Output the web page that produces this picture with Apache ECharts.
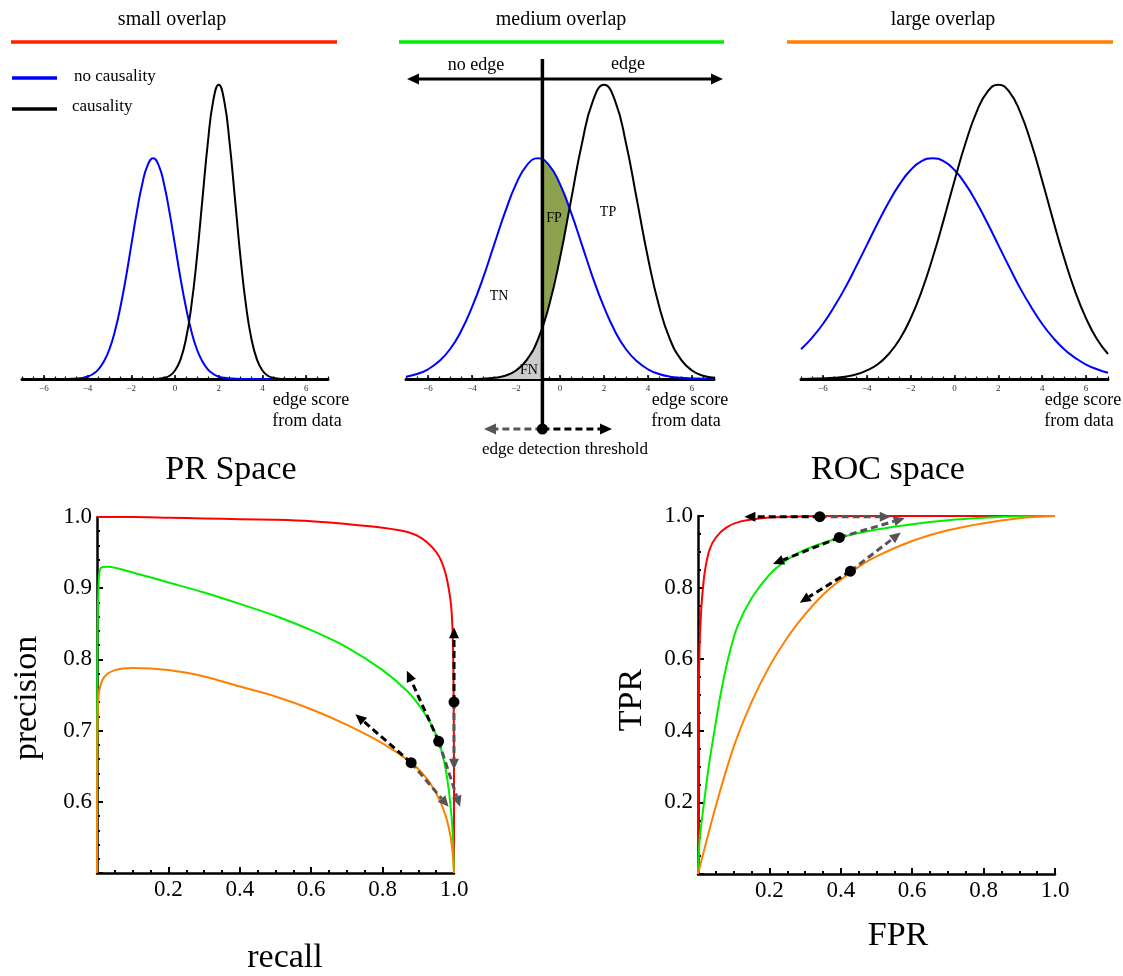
<!DOCTYPE html>
<html>
<head>
<meta charset="utf-8">
<script src="https://cdn.jsdelivr.net/npm/echarts@6/dist/echarts.min.js"></script>
<style>
  html, body { margin: 0; padding: 0; background: #fff; }
  #main { width: 1123px; height: 976px; }
</style>
</head>
<body>
<div id="main"></div>
<script>
// ---- score distributions (top row) ----
const scoreX = [-7, -6.5, -6, -5.5, -5, -4.5, -4, -3.5, -3, -2.5, -2, -1.5, -1, -0.5, 0,
  0.5, 1, 1.5, 2, 2.5, 3, 3.5, 4, 4.5, 5, 5.5, 6, 6.5, 7];
const scoreTicks = [-6, -4, -2, 0, 2, 4, 6];
// the narrow "small overlap" curves are read more finely
const smallX = [-7, -5, -4.75, -4.5, -4.25, -4, -3.75, -3.5, -3.25, -3, -2.75, -2.5, -2.25, -2, -1.75, -1.5,
  -1.25, -1, -0.75, -0.5, -0.25, 0, 0.25, 0.5, 0.75, 1, 1.25, 1.5, 1.75, 2, 2.25, 2.5, 2.75, 3, 3.25, 3.5,
  3.75, 4, 4.25, 4.5, 4.75, 5, 7];

const smallNoCause = [0, 0, 0.0007, 0.0016, 0.0038, 0.0083, 0.017, 0.033, 0.060, 0.101, 0.162, 0.244, 0.343, 0.455,
  0.566, 0.662, 0.727, 0.75, 0.727, 0.662, 0.566, 0.455, 0.343, 0.244, 0.162, 0.101, 0.060, 0.033, 0.017, 0.008,
  0.004, 0.002, 0.001, 0, 0, 0, 0, 0, 0, 0, 0, 0, 0];
const smallCause = [0, 0, 0, 0, 0, 0, 0, 0, 0, 0, 0, 0, 0, 0, 0, 0, 0, 0, 0.001, 0.004, 0.011, 0.029, 0.066, 0.135,
  0.249, 0.411, 0.607, 0.801, 0.946, 1, 0.946, 0.801, 0.607, 0.411, 0.249, 0.135, 0.066, 0.029, 0.011, 0.004,
  0.001, 0, 0];
const mediumNoCause = [0.008, 0.017, 0.033, 0.060, 0.101, 0.162, 0.244, 0.343, 0.455, 0.566, 0.662, 0.727, 0.75, 0.727, 0.662,
  0.566, 0.455, 0.343, 0.244, 0.162, 0.101, 0.060, 0.033, 0.017, 0.008, 0.004, 0.002, 0.001, 0];
const mediumCause = [0, 0, 0, 0, 0, 0, 0, 0.001, 0.004, 0.011, 0.029, 0.066, 0.135, 0.249, 0.411,
  0.607, 0.801, 0.946, 1, 0.946, 0.801, 0.607, 0.411, 0.249, 0.135, 0.066, 0.029, 0.011, 0.004];
const largeNoCause = [0.101, 0.140, 0.187, 0.244, 0.308, 0.380, 0.455, 0.530, 0.601, 0.662, 0.710, 0.740, 0.75, 0.740, 0.710,
  0.662, 0.601, 0.530, 0.455, 0.380, 0.308, 0.244, 0.187, 0.140, 0.101, 0.072, 0.049, 0.033, 0.021];
const largeCause = [0, 0.001, 0.002, 0.004, 0.008, 0.015, 0.029, 0.050, 0.085, 0.135, 0.206, 0.298, 0.411, 0.539, 0.674,
  0.801, 0.906, 0.976, 1, 0.976, 0.906, 0.801, 0.674, 0.539, 0.411, 0.298, 0.206, 0.135, 0.085];

// medium panel: threshold and shaded FN / FP regions
const threshold = -0.8;
const fnX = [-4, -3.6, -3.2, -2.8, -2.4, -2, -1.6, -1.2, -0.8];
const fnY = [0, 0.001, 0.0025, 0.006, 0.0135, 0.029, 0.056, 0.103, 0.175];
const fpX = [-0.8, -0.6, -0.4, -0.2, 0, 0.2, 0.43];
const fpTop = [0.746, 0.735, 0.717, 0.692, 0.662, 0.627, 0.58];
const fpBottom = [0.175, 0.223, 0.278, 0.341, 0.411, 0.487, 0.58];

// ---- PR space: [recall, precision] ----
const prRed = [[0, 1.0], [0.1, 1.0], [0.2, 0.999], [0.3, 0.998], [0.4, 0.997], [0.5, 0.996], [0.6, 0.994],
  [0.7, 0.99], [0.8, 0.985], [0.87, 0.979], [0.91, 0.97], [0.94, 0.957], [0.96, 0.943], [0.975, 0.923],
  [0.985, 0.9], [0.992, 0.875], [0.996, 0.84], [0.998, 0.8], [0.999, 0.74], [1.0, 0.65], [1.0, 0.5]];
const prGreen = [[0, 0.5], [0.001, 0.8], [0.004, 0.9], [0.01, 0.928], [0.03, 0.93], [0.1, 0.922], [0.2, 0.908],
  [0.3, 0.894], [0.4, 0.878], [0.5, 0.861], [0.6, 0.841], [0.7, 0.817], [0.8, 0.785], [0.87, 0.755],
  [0.91, 0.73], [0.94, 0.705], [0.96, 0.68], [0.975, 0.65], [0.985, 0.618], [0.993, 0.58], [0.998, 0.54],
  [1.0, 0.5]];
const prOrange = [[0, 0.5], [0.0005, 0.65], [0.002, 0.72], [0.006, 0.755], [0.02, 0.775], [0.05, 0.785],
  [0.1, 0.788], [0.2, 0.785], [0.3, 0.776], [0.4, 0.762], [0.5, 0.748], [0.6, 0.73], [0.7, 0.708],
  [0.8, 0.682], [0.88, 0.655], [0.92, 0.635], [0.95, 0.612], [0.97, 0.59], [0.985, 0.565], [0.995, 0.535],
  [1.0, 0.5]];
const prDots = [[1.0, 0.74], [0.957, 0.685], [0.88, 0.655]];
const prLowerArrows = [[1.0, 0.74, 1.0, 0.845], [0.957, 0.685, 0.868, 0.784], [0.88, 0.655, 0.724, 0.723]];
const prRaiseArrows = [[1.0, 0.74, 1.0, 0.645], [0.957, 0.685, 1.017, 0.593], [0.88, 0.655, 0.985, 0.593]];

// ---- ROC space: [FPR, TPR] ----
const rocRed = [[0, 0], [0.0005, 0.3], [0.0015, 0.45], [0.004, 0.62], [0.008, 0.72], [0.013, 0.79],
  [0.02, 0.85], [0.032, 0.905], [0.05, 0.94], [0.08, 0.968], [0.12, 0.985], [0.2, 0.996], [0.3, 0.999],
  [0.45, 1], [1, 1]];
const rocGreen = [[0, 0], [0.005, 0.1], [0.017, 0.2], [0.03, 0.3], [0.046, 0.4], [0.063, 0.5], [0.084, 0.6],
  [0.11, 0.69], [0.15, 0.77], [0.2, 0.836], [0.25, 0.878], [0.3, 0.906], [0.4, 0.94], [0.5, 0.962],
  [0.6, 0.977], [0.7, 0.988], [0.8, 0.995], [0.9, 0.999], [1, 1]];
const rocOrange = [[0, 0], [0.05, 0.19], [0.1, 0.355], [0.15, 0.48], [0.2, 0.58], [0.25, 0.66], [0.3, 0.725],
  [0.35, 0.78], [0.4, 0.822], [0.45, 0.858], [0.5, 0.887], [0.6, 0.93], [0.7, 0.96], [0.8, 0.98],
  [0.9, 0.994], [1, 1]];
const rocDots = [[0.341, 0.998], [0.396, 0.94], [0.427, 0.846]];
const rocLowerArrows = [[0.341, 0.998, 0.13, 0.998], [0.396, 0.94, 0.21, 0.866], [0.427, 0.846, 0.285, 0.758]];
const rocRaiseArrows = [[0.341, 0.998, 0.54, 0.998], [0.396, 0.94, 0.579, 0.994], [0.427, 0.846, 0.568, 0.954]];

const SERIF = '"Liberation Serif", "DejaVu Serif", serif';
const RED = '#ff0000', GREEN = '#00ee00', ORANGE = '#ff8000', BLUE = '#0000ff';
const GRAY = '#555555';

const chart = echarts.init(document.getElementById('main'));

const zip = (xs, ys) => xs.map((x, k) => [x, ys[k]]);

// dashed line with a filled arrow head, drawn in data coordinates
function arrowRender(color) {
  return function (params, api) {
    const p0 = api.coord([api.value(0), api.value(1)]);
    const p1 = api.coord([api.value(2), api.value(3)]);
    const dx = p1[0] - p0[0], dy = p1[1] - p0[1];
    const len = Math.hypot(dx, dy) || 1;
    const ux = dx / len, uy = dy / len;
    const head = 11, half = 5;
    const bx = p1[0] - ux * head, by = p1[1] - uy * head;
    return {
      type: 'group',
      children: [
        { type: 'line', shape: { x1: p0[0], y1: p0[1], x2: bx, y2: by },
          style: { stroke: color, lineWidth: 3, lineDash: [7, 4] } },
        { type: 'polygon', shape: { points: [[p1[0], p1[1]], [bx - uy * half, by + ux * half], [bx + uy * half, by - ux * half]] },
          style: { fill: color } }
      ]
    };
  };
}

function scoreAxes(gridIndex) {
  return [
    {
      gridIndex, type: 'value', min: -7, max: 7, position: 'bottom',
      axisLine: { onZero: false, lineStyle: { color: '#000', width: 3 } },
      axisTick: { customValues: scoreTicks, inside: true, length: 4, lineStyle: { color: '#000', width: 1.5 } },
      axisLabel: { customValues: scoreTicks, color: '#333', fontSize: 9, fontFamily: SERIF, margin: 5,
        formatter: v => (v < 0 ? '\u2212' + (-v) : String(v)) },
      splitLine: { show: false }
    },
    {
      gridIndex, type: 'value', min: -7, max: 7, position: 'bottom',
      axisLine: { show: false, onZero: false },
      axisTick: { customValues: scoreX, inside: true, length: 2.5, lineStyle: { color: '#000', width: 1.2 } },
      axisLabel: { show: false },
      splitLine: { show: false }
    }
  ];
}

function plotAxis(gridIndex, min, max, interval, minorSplit) {
  return {
    gridIndex, type: 'value', min, max, interval,
    axisLine: { onZero: false, lineStyle: { color: '#000', width: 2.5 } },
    axisTick: { inside: true, length: 6, lineStyle: { color: '#000', width: 2 } },
    minorTick: { show: true, splitNumber: minorSplit, length: 3, lineStyle: { color: '#000', width: 2 } },
    axisLabel: { color: '#000', fontSize: 23, fontFamily: SERIF, margin: 5, showMinLabel: false,
      formatter: v => v.toFixed(1) },
    splitLine: { show: false },
    minorSplitLine: { show: false }
  };
}

function scoreLine(xs, data, color, gi) {
  return {
    type: 'line', xAxisIndex: gi * 2, yAxisIndex: gi, data: zip(xs, data),
    smooth: true, symbol: 'none', clip: false, z: 3,
    lineStyle: { color, width: 2 }
  };
}
function curve(data, color, xi, yi) {
  return {
    type: 'line', xAxisIndex: xi, yAxisIndex: yi, data,
    smooth: 0.3, symbol: 'none', clip: false, z: 3,
    lineStyle: { color, width: 2 }
  };
}
function arrows(data, color, xi, yi) {
  return {
    type: 'custom', xAxisIndex: xi, yAxisIndex: yi, data, clip: false, z: 4,
    encode: { x: [0, 2], y: [1, 3] },
    renderItem: arrowRender(color)
  };
}
function dots(data, xi, yi) {
  return {
    type: 'scatter', xAxisIndex: xi, yAxisIndex: yi, data, clip: false, z: 5,
    symbol: 'circle', symbolSize: 11, itemStyle: { color: '#000', opacity: 1 }
  };
}

const topY = [0, 1, 2].map(i => ({ gridIndex: i, type: 'value', min: 0, max: 1.05, show: false }));

function txt(text, x, y, size, extra, align) {
  return Object.assign({
    type: 'text', x, y, z: 20,
    style: { text, font: size + 'px ' + SERIF, fill: '#000', textAlign: align || 'center',
      textVerticalAlign: 'middle', verticalAlign: 'middle' }
  }, extra || {});
}
function seg(x1, y1, x2, y2, color, w) {
  return { type: 'line', z: 20, shape: { x1, y1, x2, y2 }, style: { stroke: color, lineWidth: w } };
}

const staticGraphics = [
  txt('small overlap', 172, 20, 20), seg(11, 42, 337, 42, '#ff2200', 3.5),
  txt('medium overlap', 561, 20, 20), seg(399, 42, 724, 42, GREEN, 3.5),
  txt('large overlap', 943, 20, 20), seg(787, 42, 1113, 42, ORANGE, 3.5),
  seg(12, 78, 57, 78, BLUE, 3.5), seg(12, 109, 57, 109, '#000', 3.5),
  txt('no causality', 74, 77, 17, null, 'left'),
  txt('causality', 72, 107, 17, null, 'left'),
  txt('edge score', 311, 400, 18), txt('from data', 307, 421, 18),
  txt('edge score', 690, 400, 18), txt('from data', 686, 421, 18),
  txt('edge score', 1083, 400, 18), txt('from data', 1079, 421, 18),
  txt('PR Space', 231, 470, 34), txt('ROC space', 888, 470, 34),
  txt('precision', 27, 698, 34, { rotation: Math.PI / 2 }),
  txt('recall', 285, 958, 34),
  txt('TPR', 632, 700, 34, { rotation: Math.PI / 2 }),
  txt('FPR', 898, 936, 34),
  txt('no edge', 476, 65, 18), txt('edge', 628, 64, 18),
  txt('edge detection threshold', 565, 450, 17),
  txt('TN', 499, 296, 14), txt('FP', 554, 218, 14), txt('TP', 608, 212, 14), txt('FN', 529, 370, 14)
];

const option = {
  animation: false,
  backgroundColor: '#fff',
  grid: [
    { left: 22, top: 70, width: 306, height: 309 },
    { left: 406, top: 70, width: 308, height: 309 },
    { left: 801, top: 70, width: 307, height: 309 },
    { left: 97, top: 517, width: 357, height: 356 },
    { left: 698, top: 516, width: 357, height: 358 }
  ],
  xAxis: [
    ...scoreAxes(0), ...scoreAxes(1), ...scoreAxes(2),
    plotAxis(3, 0, 1, 0.2, 4),
    plotAxis(4, 0, 1, 0.2, 4)
  ],
  yAxis: [
    ...topY,
    plotAxis(3, 0.5, 1, 0.1, 5),
    plotAxis(4, 0, 1, 0.2, 4)
  ],
  series: [
    {
      type: 'custom', xAxisIndex: 2, yAxisIndex: 1, data: [[threshold, 0]], z: 1,
      renderItem: (params, api) => {
        const pts = fnX.map((x, k) => api.coord([x, fnY[k]]));
        pts.push(api.coord([threshold, 0]), api.coord([fnX[0], 0]));
        return { type: 'polygon', shape: { points: pts }, style: { fill: '#cccccc' } };
      }
    },
    {
      type: 'custom', xAxisIndex: 2, yAxisIndex: 1, data: [[threshold, 0]], z: 1,
      renderItem: (params, api) => {
        const top = fpX.map((x, k) => api.coord([x, fpTop[k]]));
        const bottom = fpX.map((x, k) => api.coord([x, fpBottom[k]])).reverse();
        return { type: 'polygon', shape: { points: top.concat(bottom) }, style: { fill: '#8ca24f' } };
      }
    },
    scoreLine(smallX, smallNoCause, BLUE, 0), scoreLine(smallX, smallCause, '#000', 0),
    scoreLine(scoreX, mediumNoCause, BLUE, 1), scoreLine(scoreX, mediumCause, '#000', 1),
    scoreLine(scoreX, largeNoCause, BLUE, 2), scoreLine(scoreX, largeCause, '#000', 2),

    curve(prRed, RED, 6, 3), curve(prGreen, GREEN, 6, 3), curve(prOrange, ORANGE, 6, 3),
    arrows(prRaiseArrows, GRAY, 6, 3), arrows(prLowerArrows, '#000', 6, 3), dots(prDots, 6, 3),

    curve(rocRed, RED, 7, 4), curve(rocGreen, GREEN, 7, 4), curve(rocOrange, ORANGE, 7, 4),
    arrows(rocRaiseArrows, GRAY, 7, 4), arrows(rocLowerArrows, '#000', 7, 4), dots(rocDots, 7, 4)
  ],
  graphic: staticGraphics
};

chart.setOption(option);

// threshold marker of the medium panel, placed through the panel's x scale
const tx = chart.convertToPixel({ gridIndex: 1 }, [threshold, 0])[0];
const head = (tipX, tipY, dir, color) => ({
  type: 'polygon', z: 21,
  shape: { points: [[tipX, tipY], [tipX - dir * 12, tipY - 5.5], [tipX - dir * 12, tipY + 5.5]] },
  style: { fill: color }
});
chart.setOption({
  graphic: staticGraphics.concat([
    seg(417, 79, 713, 79, '#000', 3), head(407, 79, -1, '#000'), head(723, 79, 1, '#000'),
    seg(tx, 59, tx, 429, '#000', 3.5),
    { type: 'line', z: 21, shape: { x1: tx, y1: 429, x2: 495, y2: 429 }, style: { stroke: GRAY, lineWidth: 3, lineDash: [7, 4] } },
    head(484, 429, -1, GRAY),
    { type: 'line', z: 21, shape: { x1: tx, y1: 429, x2: 601, y2: 429 }, style: { stroke: '#000', lineWidth: 3, lineDash: [7, 4] } },
    head(612, 429, 1, '#000'),
    { type: 'circle', z: 22, shape: { cx: tx, cy: 429, r: 5.5 }, style: { fill: '#000' } }
  ])
});
</script>
</body>
</html>
